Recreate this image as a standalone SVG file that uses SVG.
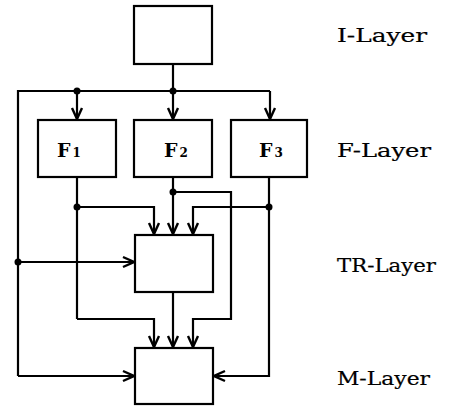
<svg xmlns="http://www.w3.org/2000/svg" width="462" height="406" viewBox="0 0 462 406">
<defs>
<style>
.box{fill:#fff;stroke:#000;stroke-width:2.2}
.ln{fill:none;stroke:#000;stroke-width:2.2;stroke-linejoin:miter}
.dot{fill:#000}
.lay{font-family:"DejaVu Serif","Liberation Serif",serif;font-size:18px;fill:#000;stroke:#000;stroke-width:0.2}
.fl{font-family:"DejaVu Serif","Liberation Serif",serif;font-weight:bold;font-size:19px;fill:#000}
.sub{font-size:12px}
</style>
<marker id="ah" viewBox="-14 -8 16 16" markerWidth="16" markerHeight="16" refX="0" refY="0" orient="auto" markerUnits="userSpaceOnUse">
<path d="M-11,-5 L0,0 L-11,5" fill="none" stroke="#000" stroke-width="2.4"/>
</marker>
</defs>
<rect width="462" height="406" fill="#fff"/>
<g id="connectors">
<path class="ln" d="M173,64 V91"/>
<path class="ln" d="M18,376 V91 H270"/>
<path class="ln" d="M77,91 V119" marker-end="url(#ah)"/>
<path class="ln" d="M173,91 V119" marker-end="url(#ah)"/>
<path class="ln" d="M270,91 V119" marker-end="url(#ah)"/>
<path class="ln" d="M18,262 H134" marker-end="url(#ah)"/>
<path class="ln" d="M18,376 H134" marker-end="url(#ah)"/>
<path class="ln" d="M77,177 V319"/>
<path class="ln" d="M77,207 H154 V234" marker-end="url(#ah)"/>
<path class="ln" d="M77,319 H154 V347" marker-end="url(#ah)"/>
<path class="ln" d="M173,177 V234" marker-end="url(#ah)"/>
<path class="ln" d="M173,192 H231 V319 H193 V347" marker-end="url(#ah)"/>
<path class="ln" d="M269,177 V376 H214" marker-end="url(#ah)"/>
<path class="ln" d="M269,207 H193 V234" marker-end="url(#ah)"/>
<path class="ln" d="M173,292 V347" marker-end="url(#ah)"/>
<circle class="dot" cx="77" cy="91" r="3.5"/>
<circle class="dot" cx="173" cy="91" r="3.5"/>
<circle class="dot" cx="18" cy="262" r="3.5"/>
<circle class="dot" cx="77" cy="207" r="3.5"/>
<circle class="dot" cx="173" cy="192" r="3.5"/>
<circle class="dot" cx="269" cy="207" r="3.5"/>
</g>
<g id="I-box"><rect class="box" x="134" y="6" width="78" height="58"/></g>
<g id="F1"><rect class="box" x="38" y="120" width="78" height="57"/><text class="fl" x="57" y="157">F<tspan class="sub" dx="2">1</tspan></text></g>
<g id="F2"><rect class="box" x="134" y="120" width="78" height="57"/><text class="fl" x="164" y="157">F<tspan class="sub" dx="2">2</tspan></text></g>
<g id="F3"><rect class="box" x="231" y="120" width="76" height="57"/><text class="fl" x="259" y="157">F<tspan class="sub" dx="2">3</tspan></text></g>
<g id="TR-box"><rect class="box" x="135" y="235" width="78" height="57"/></g>
<g id="M-box"><rect class="box" x="135" y="348" width="78" height="56"/></g>
<g id="labels">
<text class="lay" x="337" y="42" textLength="90" lengthAdjust="spacingAndGlyphs">I-Layer</text>
<text class="lay" x="337" y="157" textLength="94" lengthAdjust="spacingAndGlyphs">F-Layer</text>
<text class="lay" x="337" y="272" textLength="99" lengthAdjust="spacingAndGlyphs">TR-Layer</text>
<text class="lay" x="337" y="385" textLength="93" lengthAdjust="spacingAndGlyphs">M-Layer</text>
</g>
</svg>
